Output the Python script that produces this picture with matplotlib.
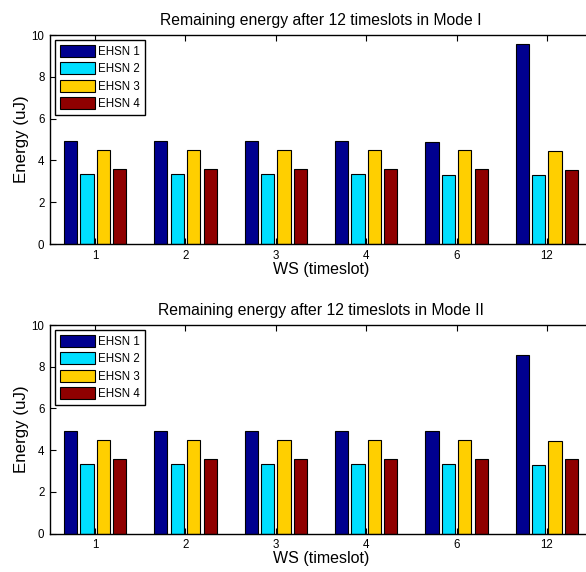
import matplotlib
matplotlib.use("Agg")
import matplotlib.pyplot as plt
import numpy as np

plt.rcParams['font.family'] = ['Liberation Sans', 'DejaVu Sans']

ws_labels = ['1', '2', '3', '4', '6', '12']
node_names = ['EHSN 1', 'EHSN 2', 'EHSN 3', 'EHSN 4']
node_colors = ['#00008F', '#00DFFF', '#FFCF00', '#8F0000']

# Mode I
mode1_ehsn1 = [4.92, 4.92, 4.92, 4.92, 4.90, 9.55]
mode1_ehsn2 = [3.33, 3.33, 3.33, 3.33, 3.31, 3.28]
mode1_ehsn3 = [4.50, 4.50, 4.50, 4.50, 4.50, 4.45]
mode1_ehsn4 = [3.57, 3.57, 3.57, 3.57, 3.57, 3.55]

# Mode II
mode2_ehsn1 = [4.92, 4.92, 4.92, 4.92, 4.92, 8.55]
mode2_ehsn2 = [3.33, 3.33, 3.33, 3.33, 3.33, 3.28]
mode2_ehsn3 = [4.50, 4.50, 4.50, 4.50, 4.50, 4.44]
mode2_ehsn4 = [3.57, 3.57, 3.57, 3.57, 3.57, 3.57]

panels = [
    ("Remaining energy after 12 timeslots in Mode I",
     [mode1_ehsn1, mode1_ehsn2, mode1_ehsn3, mode1_ehsn4]),
    ("Remaining energy after 12 timeslots in Mode II",
     [mode2_ehsn1, mode2_ehsn2, mode2_ehsn3, mode2_ehsn4]),
]

fig = plt.figure(figsize=(5.86, 5.72), dpi=100)

# axes run a bit past the right edge, like the cropped original
positions = [[0.0853, 0.5734, 0.925, 0.3654],
             [0.0853, 0.0670, 0.925, 0.3648]]

x = np.arange(1, len(ws_labels) + 1)
pitch = 0.182
width = 0.147

for pos, (title, series) in zip(positions, panels):
    ax = fig.add_axes(pos)
    for i, vals in enumerate(series):
        ax.bar(x + (i - 1.5) * pitch, vals, width, color=node_colors[i],
               edgecolor='black', linewidth=0.8, label=node_names[i])
    ax.set_xlim(0.5, 6.5)
    ax.set_ylim(0, 10)
    ax.set_xticks(x)
    ax.set_xticklabels(ws_labels)
    ax.set_yticks([0, 2, 4, 6, 8, 10])
    ax.set_axisbelow(True)
    ax.tick_params(direction='in', length=4, width=0.8, top=True, right=False,
                   labelsize=8.3, pad=4)
    for s in ax.spines.values():
        s.set_linewidth(1.0)
    ax.set_title(title, fontsize=11.3, pad=7)
    ax.set_xlabel("WS (timeslot)", fontsize=11.5, labelpad=0)
    ax.set_ylabel("Energy (uJ)", fontsize=12.2, labelpad=2)
    leg = ax.legend(loc='upper left', fontsize=8.3, fancybox=False, framealpha=1,
                    edgecolor='black', handlelength=3.0, handleheight=1.2,
                    labelspacing=0.4, handletextpad=0.3, borderpad=0.45,
                    borderaxespad=0.42)
    leg.get_frame().set_linewidth(1.0)

plt.savefig('out.png', dpi=100)
